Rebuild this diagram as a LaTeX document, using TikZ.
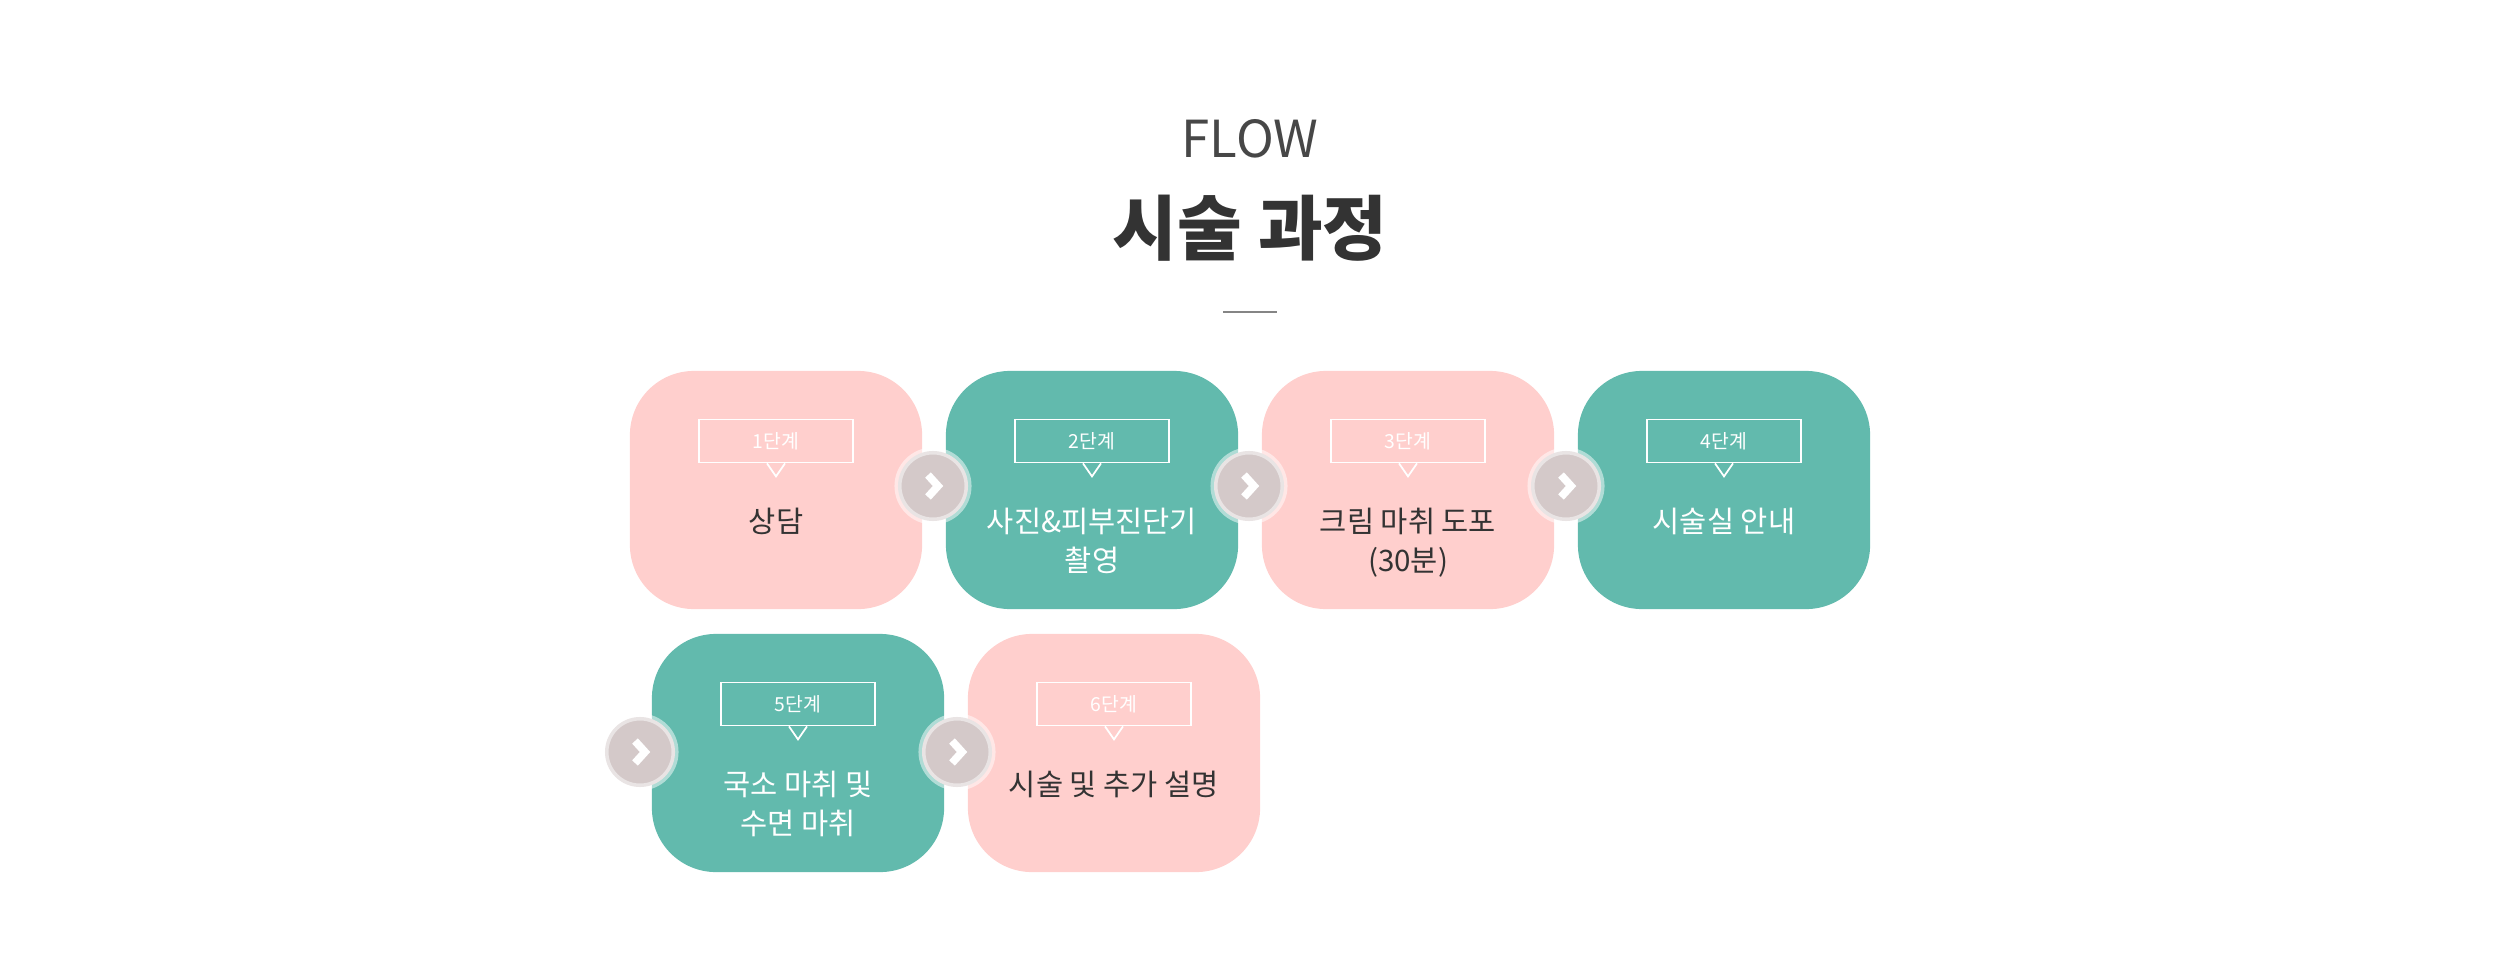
\documentclass[tikz,border=0pt]{standalone}
\usepackage{fontspec}
\setmainfont{Noto Sans CJK KR}
\definecolor{pinkbox}{HTML}{FFCFCD}
\definecolor{tealbox}{HTML}{62BAAD}
\definecolor{darktext}{HTML}{333333}
\definecolor{chevbg}{HTML}{D4C9C9}
\begin{document}
\begin{tikzpicture}[x=0.01cm,y=-0.01cm,
        % styles
        stepbox/.style={rounded corners=0.64cm, minimum width=2.92cm, minimum height=2.38cm, inner sep=0pt},
        pinkstep/.style={stepbox, fill=pinkbox},
        tealstep/.style={stepbox, fill=tealbox},
        steptext/.style={font=\fontsize{8.4}{11}\selectfont, align=center},
        tag/.style={draw=white, line width=0.5pt, minimum width=1.54cm, minimum height=0.43cm, inner sep=0pt, text=white, font=\fontsize{5.5}{6}\selectfont},
        nextbtn/.style={circle, fill=chevbg, minimum size=0.70cm, inner sep=0pt, draw=white, draw opacity=0.5, line width=2pt}
    ]
    \useasboundingbox (0,0) rectangle (2500,970);

    % heading
    \node[font=\fontsize{14.5}{16}\selectfont, text=darktext!90] (flow) at (1250,139) {FLOW};
    \node[font=\fontsize{20}{22}\selectfont\bfseries, text=darktext] (title) at (1250,228) {시술 과정};
    \draw[darktext!60, line width=0.4pt] (1223,312) -- (1277,312);

    % steps
    \foreach \n/\x/\y/\st/\col/\txt in {
        1/776/490/pinkstep/darktext/상담,
        2/1092/490/tealstep/white/{사진\&피부진단기\\촬영},
        3/1408/490/pinkstep/darktext/{크림 마취 도포\\(30분)},
        4/1724/490/tealstep/white/시술실 안내,
        5/798/753/tealstep/white/{국소 마취 및\\수면 마취},
        6/1114/753/pinkstep/darktext/시술 및 추가 설명}{
        \node[\st] (s\n) at (\x,\y) {};
        \node[tag] (t\n) at (\x,\y-49) {\n{}단계};
        \draw[white, line width=0.5pt] ([xshift=-0.09cm]t\n.south) -- ++(9,13) -- ++(9,-13);
        \node[steptext, text=\col, anchor=north] (m\n) at (\x,\y+6) {\txt};
    }

    % next buttons
    \foreach \i/\x/\y in {a/933/486, b/1249/486, c/1566/486, d/640/752, e/957/752}{
        \node[nextbtn] (c\i) at (\x,\y) {};
        \draw[white, line width=2.2pt] ([shift={(-5,-11)}]c\i.center) -- ++(10,11) -- ++(-10,11);
    }
\end{tikzpicture}
\end{document}
